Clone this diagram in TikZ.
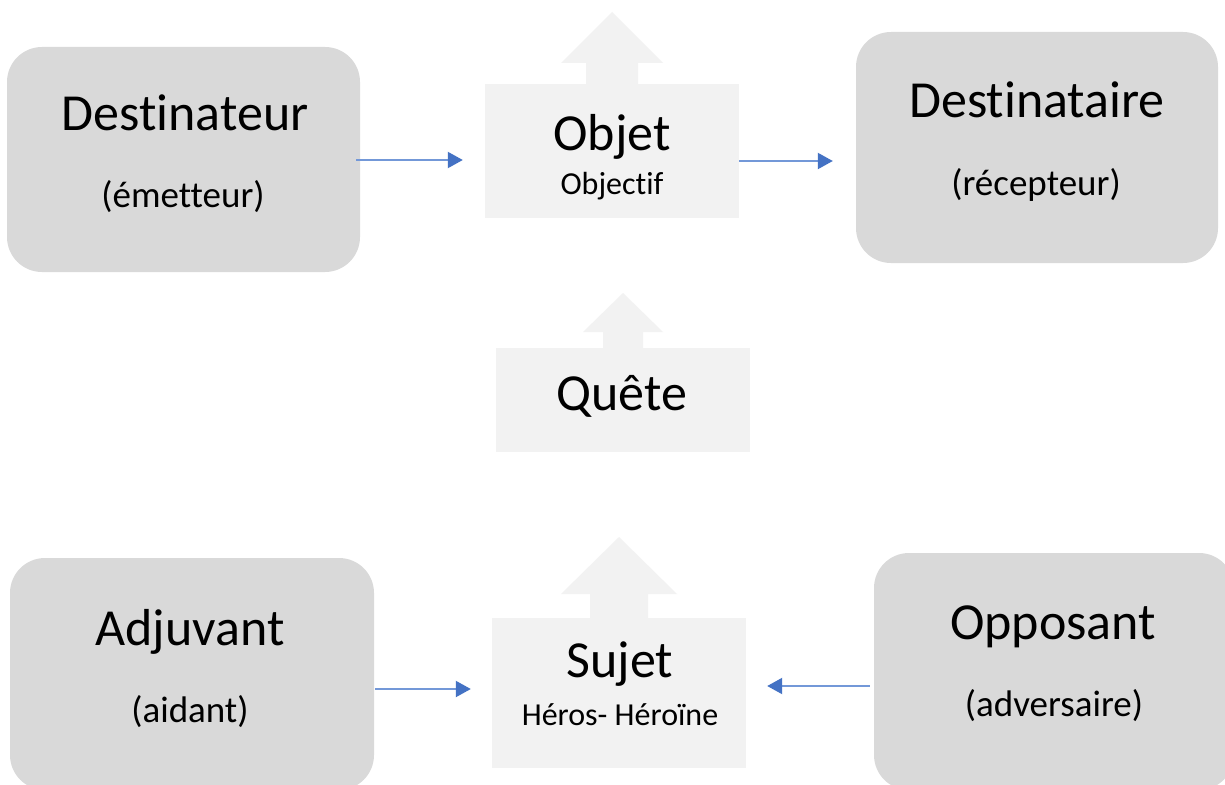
\documentclass[tikz,border=0pt]{standalone}
\usepackage{fontspec}
\setmainfont{Carlito}[Ligatures={NoCommon}]
\usetikzlibrary{arrows.meta}
\definecolor{boxdark}{HTML}{D9D9D9}
\definecolor{boxlight}{HTML}{F2F2F2}
\definecolor{linkblue}{HTML}{7398D8}
\definecolor{tipblue}{HTML}{4472C4}
\newcommand{\bigtxt}{\fontsize{52}{60}\selectfont}
\newcommand{\midtxt}{\fontsize{37}{44}\selectfont}
\newcommand{\smalltxt}{\fontsize{32}{38}\selectfont}
\tikzset{
  rbox/.style={fill=boxdark, draw=none, rounded corners=35pt, inner sep=0pt},
  lbox/.style={fill=boxlight, draw=none, inner sep=0pt},
  uparrow/.style={fill=boxlight, draw=none},
  txt/.style={anchor=base, inner sep=0pt, text=black},
  conn/.style={draw=linkblue, line width=2pt, -{Triangle[length=15pt,width=16pt,fill=tipblue,color=tipblue]}}
}
\begin{document}
\begin{tikzpicture}[x=1pt,y=-1pt]
\clip (0,0) rectangle (1225,784);
\fill[white] (0,0) rectangle (1225,784);
% up arrows
\fill[uparrow] (586,85) -- (586,63) -- (561,63) -- (612,12) -- (663,63) -- (638,63) -- (638,85) -- cycle;
\fill[uparrow] (603,349) -- (603,332) -- (583,332) -- (623,293) -- (663,332) -- (643,332) -- (643,349) -- cycle;
\fill[uparrow] (590,619) -- (590,594) -- (561,594) -- (619,537) -- (677,594) -- (648,594) -- (648,619) -- cycle;
% boxes
\node[rbox, minimum width=353pt, minimum height=225pt] (dest) at (183.5,159.5) {};
\node[rbox, minimum width=362pt, minimum height=231pt] (dtaire) at (1037,147.5) {};
\node[rbox, minimum width=364pt, minimum height=232pt] (adj) at (192,674) {};
\node[rbox, minimum width=360pt, minimum height=237pt] (opp) at (1054,671.5) {};
\node[lbox, minimum width=254pt, minimum height=134pt] (objet) at (612,151) {};
\node[lbox, minimum width=254pt, minimum height=104pt] (quete) at (623,400) {};
\node[lbox, minimum width=254pt, minimum height=150pt] (sujet) at (619,693) {};
% texts
\node[txt] (t1) at (185,130) {\bigtxt Destinateur};
\node[txt] (t1b) at (183,207) {\midtxt (émetteur)};
\node[txt] (t2) at (1037,117) {\bigtxt Destinataire};
\node[txt] (t2b) at (1036,195) {\midtxt (récepteur)};
\node[txt] (t3) at (612,150) {\bigtxt Objet};
\node[txt] (t3b) at (612,194) {\smalltxt Objectif};
\node[txt] (t4) at (622,410) {\bigtxt Quête};
\node[txt] (t5) at (620,677) {\bigtxt Sujet};
\node[txt] (t5b) at (620,725) {\smalltxt Héros- Héroïne};
\node[txt] (t6) at (190,645) {\bigtxt Adjuvant};
\node[txt] (t6b) at (190,722) {\midtxt (aidant)};
\node[txt] (t7) at (1053,639) {\bigtxt Opposant};
\node[txt] (t7b) at (1054,716) {\midtxt (adversaire)};
% connectors
\coordinate (ya) at (0,160);
\coordinate (yb) at (0,161);
\coordinate (yc) at (0,689);
\coordinate (yd) at (0,686);
\draw[conn, shorten <=-4pt, shorten >=22pt] (dest.east |- ya) -- (objet.west |- ya);
\draw[conn, shorten >=23pt] (objet.east |- yb) -- (dtaire.west |- yb);
\draw[conn, shorten <=1pt, shorten >=21pt] (adj.east |- yc) -- (sujet.west |- yc);
\draw[conn, shorten <=4pt, shorten >=21pt] (opp.west |- yd) -- (sujet.east |- yd);
\end{tikzpicture}
\end{document}
